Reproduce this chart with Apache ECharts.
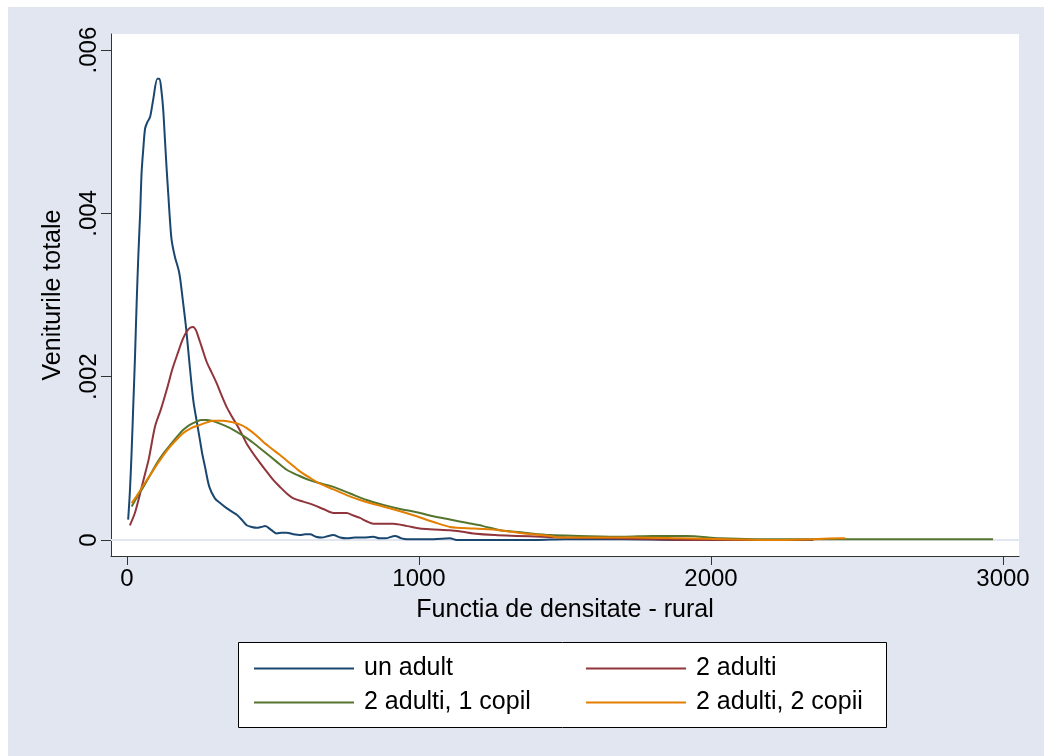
<!DOCTYPE html>
<html>
<head>
<meta charset="utf-8">
<script src="https://cdn.jsdelivr.net/npm/echarts@6.0.0/dist/echarts.min.js"></script>
<style>
html,body{margin:0;padding:0;background:#fff;}
#chart{width:1044px;height:756px;}
</style>
</head>
<body>
<div id="chart"></div>
<script>
// ---- data (x = venit, y = densitate) ----
const seriesNames = ['un adult', '2 adulti', '2 adulti, 1 copil', '2 adulti, 2 copii'];
const xTicks = [0, 1000, 2000, 3000];
const xTickLabels = ['0', '1000', '2000', '3000'];
const yTicks = [0, 0.002, 0.004, 0.006];
const yTickLabels = ['0', '.002', '.004', '.006'];

const unAdult = [
  [4,0.00025],[10,0.0006],[16,0.0011],[22,0.0017],[27,0.0022],[33,0.0029],[39,0.0035],[45,0.0040],
  [50,0.0045],[56,0.0048],[62,0.00504],[70,0.00512],[79,0.00518],[90,0.0054],[104,0.00565],[111,0.00565],
  [118,0.0055],[124,0.00527],[130,0.0049],[136,0.00453],[142,0.0042],[147,0.00392],[153,0.00367],
  [164,0.00347],[179,0.00327],[191,0.00294],[202,0.00261],[213,0.0022],[227,0.00171],[240,0.00143],
  [250,0.00122],[258,0.00105],[267,0.0009],[282,0.00065],[301,0.00051],[320,0.00045],[341,0.00039],
  [358,0.00035],[376,0.00031],[395,0.00024],[410,0.00018],[427,0.00016],[444,0.00015],[460,0.00016],
  [473,0.00017],[495,0.00012],[513,0.00008],[530,0.00009],[547,0.00009],[570,0.00007],[592,0.00006],
  [610,0.00007],[627,0.00007],[647,0.00004],[667,0.00003],[690,0.00005],[706,0.00006],[730,0.00003],
  [752,0.00002],[780,0.00003],[809,0.00003],[843,0.00004],[865,0.00002],[884,0.00002],[918,0.00005],
  [940,0.00002],[958,0.00001],[1000,0.00001],[1050,0.00001],[1106,0.00002],[1129,0.0],[1300,0.0],
  [1400,0.0],[1500,0.00001],[1700,0.00001],[1900,0.0],[2100,0.0],[2250,0.0]
];
const doiAdulti = [
  [10,0.00018],[27,0.00033],[40,0.0005],[56,0.00073],[75,0.001],[96,0.00139],[116,0.0016],[136,0.00184],
  [156,0.0021],[176,0.00231],[190,0.00245],[204,0.00255],[216,0.0026],[227,0.00261],[236,0.00257],
  [244,0.00249],[258,0.00234],[273,0.00218],[290,0.00205],[307,0.00192],[324,0.00177],[341,0.00163],
  [358,0.00152],[376,0.00141],[393,0.0013],[410,0.00118],[444,0.001],[478,0.00084],[500,0.00074],
  [524,0.00065],[547,0.00057],[570,0.00051],[604,0.00047],[638,0.00043],[672,0.00038],[707,0.00033],
  [730,0.00033],[752,0.00033],[775,0.0003],[798,0.00027],[820,0.00023],[844,0.0002],[880,0.0002],
  [912,0.0002],[960,0.00017],[1003,0.00014],[1050,0.00013],[1106,0.00012],[1150,0.0001],[1186,0.00008],
  [1260,0.00006],[1335,0.00005],[1420,0.00004],[1506,0.00003],[1650,0.00002],[1800,0.00001],
  [2000,0.0],[2200,0.0],[2350,0.0]
];
const doiAdultiUnCopil = [
  [16,0.00041],[35,0.00053],[56,0.00065],[80,0.0008],[102,0.00094],[125,0.00106],[147,0.00116],
  [170,0.00126],[193,0.00135],[215,0.00141],[238,0.00145],[255,0.00147],[273,0.00147],[290,0.00146],
  [307,0.00144],[335,0.0014],[364,0.00135],[392,0.00129],[421,0.00122],[450,0.00114],[478,0.00106],
  [512,0.00096],[547,0.00086],[587,0.00079],[627,0.00073],[667,0.00069],[707,0.00065],[764,0.00057],
  [821,0.00049],[878,0.00043],[935,0.00038],[992,0.00034],[1049,0.00029],[1106,0.00025],[1163,0.00021],
  [1220,0.00017],[1277,0.00012],[1360,0.00009],[1449,0.00006],[1550,0.00005],[1700,0.00004],
  [1800,0.00005],[1917,0.00005],[2031,0.00002],[2150,0.00001],[2300,0.00001],[2533,0.00001],[2700,0.00001],[2966,0.00001]
];
const doiAdultiDoiCopii = [
  [16,0.00045],[35,0.00055],[56,0.00067],[80,0.0008],[102,0.00092],[125,0.00104],[147,0.00114],
  [170,0.00123],[193,0.00131],[220,0.00137],[250,0.00141],[273,0.00144],[296,0.00146],[330,0.00146],
  [364,0.00144],[390,0.00141],[410,0.00137],[440,0.00129],[467,0.0012],[495,0.00112],[524,0.00104],
  [558,0.00094],[592,0.00084],[627,0.00076],[661,0.00069],[707,0.00062],[752,0.00055],[798,0.00049],
  [844,0.00044],[918,0.00037],[992,0.00029],[1050,0.00022],[1106,0.00016],[1190,0.00014],[1277,0.00012],
  [1360,0.00008],[1449,0.00005],[1483,0.00003],[1600,0.00003],[1734,0.00003],[1900,0.00002],
  [2050,0.00001],[2213,0.0],[2350,0.00001],[2442,0.00002],[2460,0.00002]
];
const seriesData = [unAdult, doiAdulti, doiAdultiUnCopil, doiAdultiDoiCopii];
const colors = ['#1a476f', '#90353b', '#55752f', '#e37e00'];

const FONT = 'Liberation Sans, Arial, Helvetica, sans-serif';

const chart = echarts.init(document.getElementById('chart'), null, {renderer: 'canvas'});

const series = seriesData.map((d, i) => ({
  name: seriesNames[i],
  type: 'line',
  data: d,
  showSymbol: false,
  symbol: 'none',
  smooth: 0.3,
  lineStyle: {color: colors[i], width: 2},
  itemStyle: {color: colors[i]},
  z: 6
}));
// gridlines as a background markLine
series.unshift({
  name: '_grid',
  type: 'line',
  data: [],
  z: 1,
  silent: true,
  markLine: {
    silent: true,
    z: 1,
    symbol: ['none', 'none'],
    label: {show: false},
    lineStyle: {color: '#e1e6f0', width: 2, type: 'solid'},
    emphasis: {disabled: true},
    data: yTicks.map(v => ({yAxis: v}))
  }
});

const pick = (ticks, labels) => v => {
  const i = ticks.findIndex(t => Math.abs(t - v) < 1e-9 * Math.max(1, Math.abs(t)));
  return i >= 0 ? labels[i] : '';
};

chart.setOption({
  animation: false,
  backgroundColor: '#ffffff',
  textStyle: {fontFamily: FONT},
  graphic: [
    {type: 'rect', z: -10, silent: true, shape: {x: 8, y: 7, width: 1036, height: 749}, style: {fill: '#e1e6f0'}},
    {type: 'rect', z: 10, silent: true, shape: {x: 238.5, y: 642.5, width: 648, height: 85}, style: {fill: '#ffffff', stroke: '#000000', lineWidth: 1}}
  ],
  grid: {left: 111, right: 25, top: 34, bottom: 200, show: true, backgroundColor: '#ffffff', borderWidth: 0},
  xAxis: {
    type: 'value',
    min: -54.8, max: 3054.8,
    name: 'Functia de densitate - rural',
    nameLocation: 'middle',
    nameGap: 42,
    nameTextStyle: {fontSize: 25, color: '#000', fontFamily: FONT},
    axisLine: {show: true, onZero: false, lineStyle: {color: '#333', width: 1}},
    axisTick: {show: true, length: 9, customValues: xTicks, lineStyle: {color: '#333'}},
    axisLabel: {customValues: xTicks, fontSize: 24, color: '#000', margin: 11, fontFamily: FONT,
      formatter: pick(xTicks, xTickLabels)},
    splitLine: {show: false}
  },
  yAxis: {
    type: 'value',
    min: -0.000196, max: 0.006197,
    name: 'Veniturile totale',
    nameLocation: 'middle',
    nameGap: 45,
    nameTextStyle: {fontSize: 25, color: '#000', fontFamily: FONT},
    axisLine: {show: true, onZero: false, lineStyle: {color: '#333', width: 1}},
    axisTick: {show: true, length: 10, customValues: yTicks, lineStyle: {color: '#333'}},
    axisLabel: {
      customValues: yTicks, rotate: 90, fontSize: 24, color: '#000', margin: 10, fontFamily: FONT,
      formatter: pick(yTicks, yTickLabels)
    },
    splitLine: {show: false}
  },
  legend: [
    {
      data: [seriesNames[0], seriesNames[2]],
      orient: 'vertical', left: 249, top: 651, itemGap: 9,
      icon: 'rect', itemWidth: 100, itemHeight: 2, z: 20,
      textStyle: {fontSize: 25, color: '#000', lineHeight: 25, padding: [0, 0, 0, 5], fontFamily: FONT},
      selectedMode: false
    },
    {
      data: [seriesNames[1], seriesNames[3]],
      orient: 'vertical', left: 581, top: 651, itemGap: 9,
      icon: 'rect', itemWidth: 100, itemHeight: 2, z: 20,
      textStyle: {fontSize: 25, color: '#000', lineHeight: 25, padding: [0, 0, 0, 5], fontFamily: FONT},
      selectedMode: false
    }
  ],
  series: series
});
</script>
</body>
</html>
